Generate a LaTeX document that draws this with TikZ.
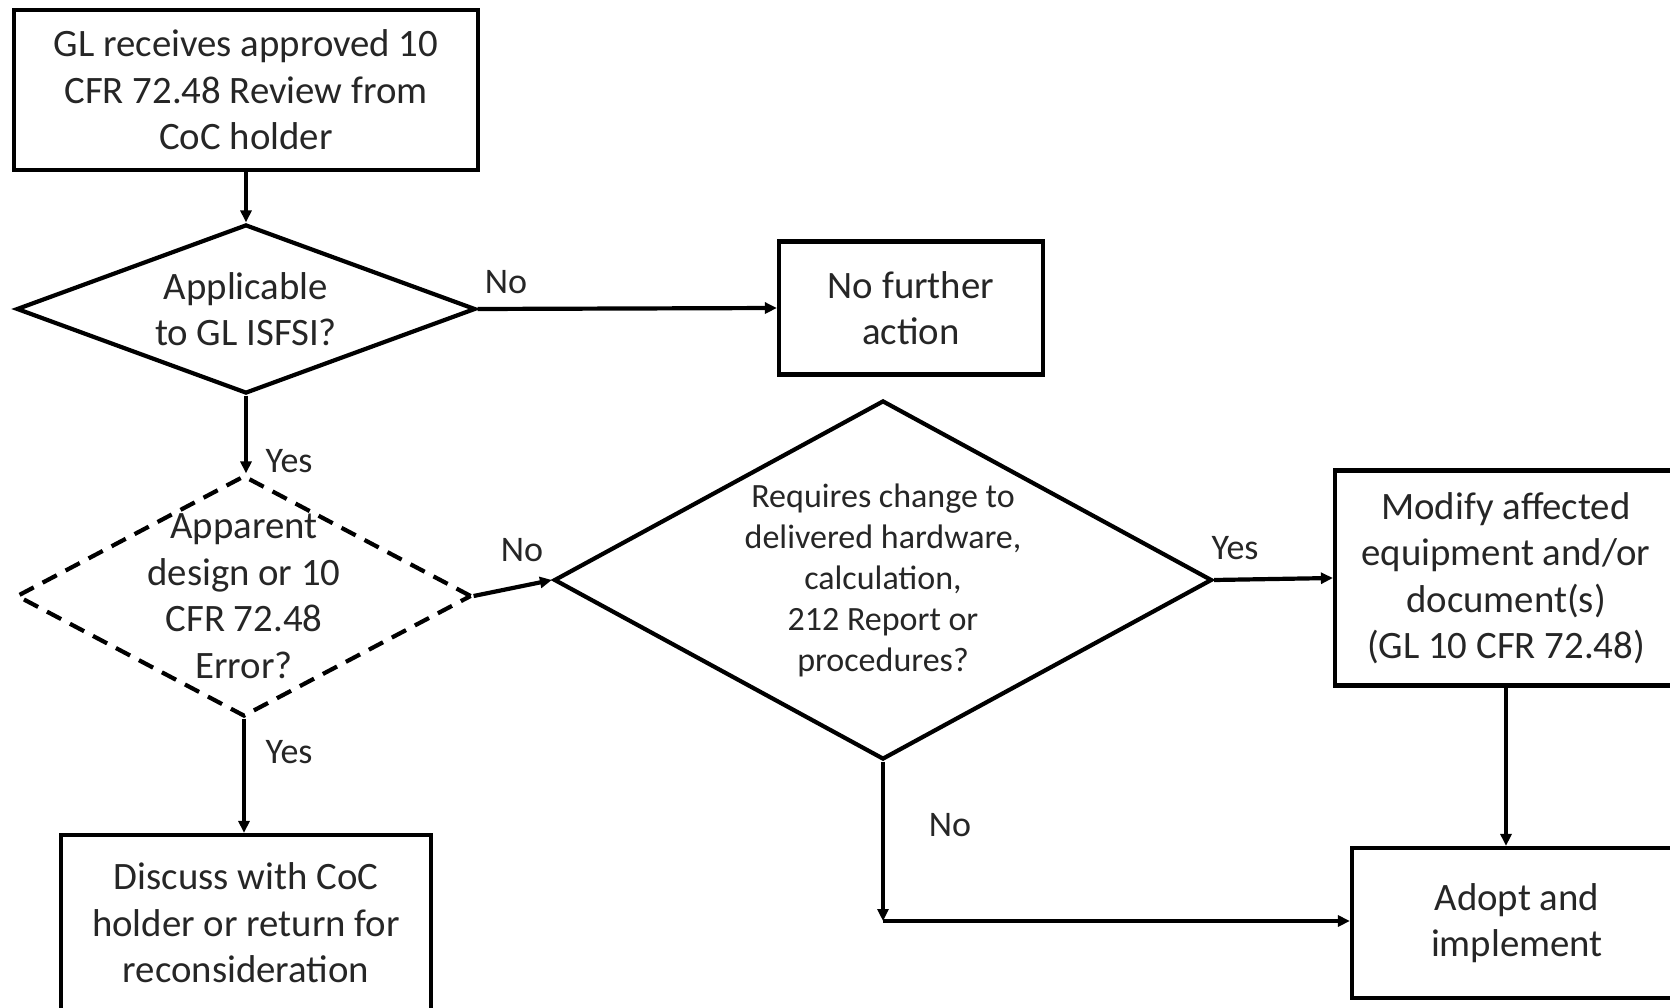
\documentclass[tikz,border=0pt]{standalone}
\usepackage{fontspec}
\setmainfont{Carlito}
\usetikzlibrary{shapes.geometric,arrows.meta}
\definecolor{txt}{gray}{0.15}
\begin{document}
\begin{tikzpicture}[x=1pt,y=-1pt,
  line width=4.2pt,
  box/.style={draw=black,rectangle,inner sep=0pt,text=txt,align=center,font=\fontsize{38.8}{46.5}\selectfont},
  dia/.style={draw=black,diamond,inner sep=0pt},
  diatext/.style={text=txt,align=center,font=\fontsize{38.8}{46.5}\selectfont},
  lbl/.style={text=txt,font=\fontsize{36}{40}\selectfont,inner sep=0pt},
  arr/.style={-{Triangle[length=12pt,width=11pt]}}]
\useasboundingbox[fill=white] (0,0) rectangle (1670,1008);

% boxes
\node[box,minimum width=464pt,minimum height=160pt] (top) at (246,90)
  {GL receives approved 10\\CFR 72.48 Review from\\CoC holder};
\node[box,minimum width=264pt,minimum height=133pt] (nfa) at (911,308)
  {No further\\action};
\node[box,minimum width=342pt,minimum height=215pt] (mod) at (1506,578)
  {Modify affected\\equipment and/or\\document(s)\\(GL 10 CFR 72.48)};
\node[box,minimum width=330pt,minimum height=150pt] (adopt) at (1517,923)
  {Adopt and\\implement};
\node[box,minimum width=370pt,minimum height=176pt] (disc) at (246,923)
  {Discuss with CoC\\holder or return for\\reconsideration};

% diamonds
\node[dia,minimum width=459pt,minimum height=169pt] (d1) at (246,309) {};
\node[diatext] at (d1.center) {Applicable\\to GL ISFSI?};
\node[dia,dash pattern=on 16pt off 10pt,minimum width=455pt,minimum height=241pt] (d2) at (244,596) {};
\node[diatext] at (d2.center) {Apparent\\design or 10\\CFR 72.48\\Error?};
\node[dia,minimum width=658pt,minimum height=359pt] (d3) at (883,580) {};
\node[text=txt,align=center,font=\fontsize{34}{41}\selectfont] at (d3.center)
  {Requires change to\\delivered hardware,\\calculation,\\212 Report or\\procedures?};

\coordinate (cno) at (883,921);

% connectors
\draw[arr] (top.south) -- (d1.north);
\draw[arr] (d1.east) -- (nfa.west);
\draw[arr] (d1.south) -- (d1.south |- d2.north);
\draw[arr] (d2.east) -- (d3.west);
\draw[arr] (d2.south) -- (d2.south |- disc.north);
\draw[arr] (d3.east) -- (mod.west);
\draw[arr] (mod.south) -- (mod.south |- adopt.north);
\draw[arr] (d3.south) -- (cno);
\draw[arr] (cno) -- (cno -| adopt.west);

% labels
\node[lbl] (l1) at (506,282) {No};
\node[lbl] (l2) at (289,461) {Yes};
\node[lbl] (l3) at (522,550) {No};
\node[lbl] (l4) at (1235,548) {Yes};
\node[lbl] (l5) at (289,752) {Yes};
\node[lbl] (l6) at (950,825) {No};
\end{tikzpicture}
\end{document}
